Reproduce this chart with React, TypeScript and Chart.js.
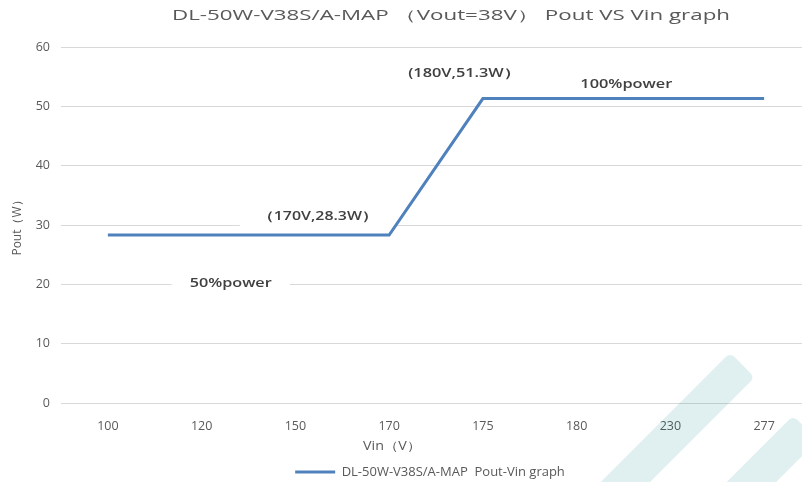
import React, { useEffect, useRef } from 'react';
import { Chart, registerables } from 'chart.js';

Chart.register(...registerables);

// ---------- data ----------
const vinLabels = ['100', '120', '150', '170', '175', '180', '230', '277'];
const poutValues = [28.3, 28.3, 28.3, 28.3, 51.3, 51.3, 51.3, 51.3];
const seriesName = 'DL-50W-V38S/A-MAP  Pout-Vin graph';
const chartTitle = 'DL-50W-V38S/A-MAP （Vout=38V） Pout VS Vin graph';
const yAxisTitle = 'Pout（W）';
const xAxisTitle = 'Vin（V）';
const yMin = 0;
const yMax = 60;
const yStep = 10;
const noteTexts = ['(180V,51.3W）', '100%power', '（170V,28.3W）', '50%power'];

// ---------- annotation layout (category index, value units) ----------
const noteLayout = [
  { at: [3.8, 55.6], width: 112, box: false },
  { at: [5.53, 53.6], width: 92, box: false },
  { at: [2.24, 31.35], width: 120, box: true },
  { at: [1.31, 20.2], width: 82, box: true },
];

const FONT = '"Open Sans", "Noto Sans", sans-serif';
const TEXT_GRAY = '#595959';
const LINE_BLUE = '#4f81bd';

function drawStretched(ctx: CanvasRenderingContext2D, text: string, cx: number, cy: number, width: number, font: string, color: string) {
  ctx.save();
  ctx.font = font;
  const w = ctx.measureText(text).width;
  const sx = w > 0 ? width / w : 1;
  ctx.translate(cx, cy);
  ctx.scale(sx, 1);
  ctx.fillStyle = color;
  ctx.textAlign = 'center';
  ctx.textBaseline = 'middle';
  ctx.fillText(text, 0, 0);
  ctx.restore();
}

const textPlugin = {
  id: 'textPlugin',
  beforeDatasetsDraw(chart: any) {
    const ctx = chart.ctx as CanvasRenderingContext2D;
    const xs = chart.scales.x;
    const ys = chart.scales.y;
    noteLayout.forEach((n) => {
      if (!n.box) return;
      const cx = xs.getPixelForValue(n.at[0]);
      const cy = ys.getPixelForValue(n.at[1]);
      ctx.save();
      ctx.fillStyle = '#ffffff';
      const hw = n.width / 2 + 18;
      ctx.fillRect(cx - hw, cy - 11, hw * 2, 24);
      ctx.restore();
    });
  },
  afterDatasetsDraw(chart: any) {
    const ctx = chart.ctx as CanvasRenderingContext2D;
    const xs = chart.scales.x;
    const ys = chart.scales.y;
    noteLayout.forEach((n, i) => {
      const cx = xs.getPixelForValue(n.at[0]);
      const cy = ys.getPixelForValue(n.at[1]);
      drawStretched(ctx, noteTexts[i], cx, cy, n.width, `600 12px ${FONT}`, '#404040');
    });
    // chart title
    drawStretched(ctx, chartTitle, 451, 16.5, 558, `14px ${FONT}`, TEXT_GRAY);
    // x axis title
    drawStretched(ctx, xAxisTitle, 392, 447, 58, `12px ${FONT}`, TEXT_GRAY);
  },
};

export default function App() {
  const canvasRef = useRef<HTMLCanvasElement | null>(null);

  useEffect(() => {
    if (!canvasRef.current) return;
    const chart = new Chart(canvasRef.current, {
      type: 'line',
      data: {
        labels: vinLabels,
        datasets: [
          {
            label: seriesName,
            data: poutValues,
            borderColor: LINE_BLUE,
            backgroundColor: LINE_BLUE,
            borderWidth: 3,
            pointRadius: 0,
            pointHoverRadius: 0,
            tension: 0,
            fill: false,
            yAxisID: 'y',
          },
        ],
      },
      options: {
        animation: false,
        responsive: false,
        devicePixelRatio: 1,
        events: [],
        layout: { padding: { top: 47, left: 0, right: 0, bottom: -6.5 } },
        plugins: {
          title: { display: false },
          tooltip: { enabled: false },
          legend: {
            display: true,
            position: 'bottom',
            labels: {
              boxWidth: 40,
              boxHeight: 3,
              padding: 0,
              color: TEXT_GRAY,
              font: { family: FONT, size: 13 },
              generateLabels: (c: any) =>
                Chart.defaults.plugins.legend.labels.generateLabels(c).map((l: any) => ({ ...l, lineWidth: 0, fillStyle: LINE_BLUE })),
            },
          },
        },
        scales: {
          x: {
            type: 'category',
            offset: true,
            grid: { display: false },
            border: { display: false },
            ticks: { color: TEXT_GRAY, font: { family: FONT, size: 12.5 }, padding: 8, maxRotation: 0, autoSkip: false },
            afterFit: (s: any) => {
              s.height = 62.5;
            },
          },
          y: {
            type: 'linear',
            position: 'left',
            min: yMin,
            max: yMax,
            ticks: { stepSize: yStep, color: TEXT_GRAY, font: { family: FONT, size: 12.5 }, padding: 11 },
            grid: { color: '#d9d9d9', lineWidth: 1, drawTicks: false },
            border: { display: false },
            title: {
              display: true,
              text: yAxisTitle,
              color: TEXT_GRAY,
              font: { family: FONT, size: 12 },
              padding: { top: 10, bottom: 0 },
            },
            afterFit: (s: any) => {
              s.width = 61;
            },
          },
          y2: {
            type: 'linear',
            position: 'right',
            display: true,
            grid: { display: false },
            border: { display: false },
            ticks: { display: false },
            afterFit: (s: any) => {
              s.width = 49;
            },
          },
        },
      },
      plugins: [textPlugin],
    } as any);
    return () => chart.destroy();
  }, []);

  const stripe = (left: number, top: number): React.CSSProperties => ({
    position: 'absolute',
    left,
    top,
    width: 35,
    height: 260,
    background: 'rgba(0,128,128,0.12)',
    borderTopLeftRadius: 6,
    borderTopRightRadius: 6,
    transformOrigin: '50% 0',
    transform: 'rotate(45deg)',
    pointerEvents: 'none',
  });

  return (
    <div style={{ position: 'absolute', left: 0, top: 0, width: 802, height: 482, overflow: 'hidden', background: '#ffffff' }}>
      <canvas ref={canvasRef} width={860} height={482} style={{ display: 'block', width: 860, height: 482 }} />
      <div style={stripe(725, 364.5)} />
      <div style={stripe(788, 427.5)} />
    </div>
  );
}
